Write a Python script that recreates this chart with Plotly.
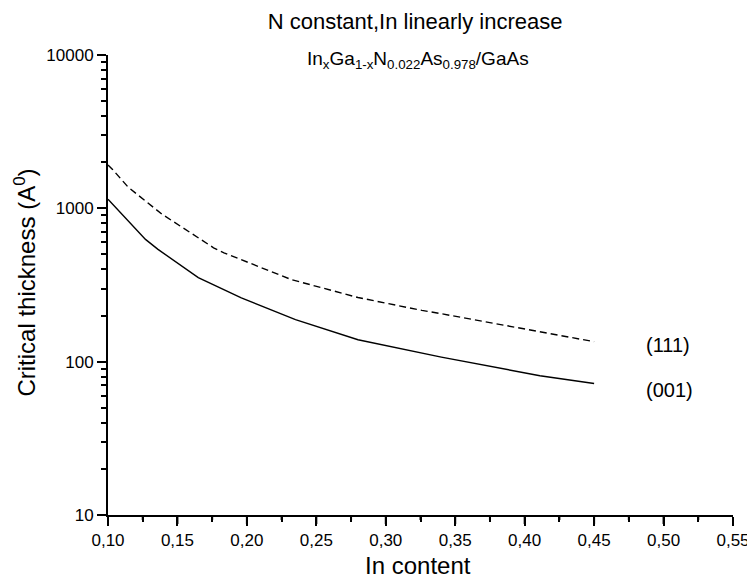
import math
import plotly.graph_objects as go

# In content (x) and critical thickness (Angstrom)
x_001 = [0.100, 0.127, 0.136, 0.160, 0.165, 0.196, 0.235, 0.280, 0.340, 0.411, 0.450]
h_001 = [1146, 627, 540, 380, 353, 261, 188, 139, 107, 81, 72]

x_111 = [0.100, 0.1031, 0.1146, 0.139, 0.176, 0.1835, 0.232, 0.280, 0.326, 0.338, 0.450]
h_111 = [1920, 1800, 1372, 914, 553, 513, 343, 262, 216, 207, 135]

curve_labels = ["(111)", "(001)"]
label_x = [0.486, 0.486]
label_y = [128, 65]

x_major_ticks = [0.10, 0.15, 0.20, 0.25, 0.30, 0.35, 0.40, 0.45, 0.50, 0.55]
x_minor_ticks = [0.125, 0.175, 0.225, 0.275, 0.325, 0.375, 0.425, 0.475, 0.525]
y_major_ticks = [10, 100, 1000, 10000]
y_minor_ticks = [20, 30, 40, 50, 60, 70, 80, 90,
                 200, 300, 400, 500, 600, 700, 800, 900,
                 2000, 3000, 4000, 5000, 6000, 7000, 8000, 9000]

FONT = "Liberation Sans, Arial, sans-serif"

fig = go.Figure()
fig.add_trace(go.Scatter(x=x_111, y=h_111, mode="lines", name="(111)",
                         line=dict(color="black", width=1.4, dash="7px,4px")))
fig.add_trace(go.Scatter(x=x_001, y=h_001, mode="lines", name="(001)",
                         line=dict(color="black", width=1.4)))

W, H = 747, 571
fig.update_layout(
    width=W, height=H,
    paper_bgcolor="white", plot_bgcolor="white",
    showlegend=False,
    separators=",",
    margin=dict(l=100, r=22, t=47, b=64, autoexpand=False),
    font=dict(family=FONT, color="black", size=17),
    title=dict(text="N constant,In linearly increase", x=0.545, xanchor="center",
               y=0.977, yanchor="middle", font=dict(size=22, family=FONT, color="black")),
    xaxis=dict(
        range=[0.10, 0.55], showgrid=False, zeroline=False, automargin=False,
        showline=True, linecolor="black", linewidth=2,
        ticks="outside", ticklen=9, tickwidth=2, tickcolor="#000000",
        tickmode="linear", tick0=0.10, dtick=0.05, tickformat=".2f",
        tickfont=dict(size=17, family=FONT, color="black"),
        minor=dict(ticks="outside", ticklen=5, tickwidth=2, tickcolor="#000000", dtick=0.025),
    ),
    yaxis=dict(
        type="log", range=[1, 4], showgrid=False, zeroline=False, automargin=False,
        showline=True, linecolor="black", linewidth=2,
        ticks="outside", ticklen=9, tickwidth=2, tickcolor="#000000",
        tickmode="linear", tick0=0, dtick=1, exponentformat="none",
        tickfont=dict(size=17, family=FONT, color="black"),
        minor=dict(ticks="outside", ticklen=5, tickwidth=2, tickcolor="#000000", dtick="D1"),
    ),
)

# tick marks also drawn explicitly at the axis tick values
tick_line = dict(color="black", width=2)
for v in x_major_ticks + x_minor_ticks:
    ln = 9 if v in x_major_ticks else 5
    fig.add_shape(type="line", xref="x", yref="paper", x0=v, x1=v,
                  ysizemode="pixel", yanchor=0, y0=0, y1=-ln, line=tick_line, layer="above")
for v in y_major_ticks + y_minor_ticks:
    ln = 9 if v in y_major_ticks else 5
    lv = math.log10(v)
    fig.add_shape(type="line", xref="paper", yref="y", y0=lv, y1=lv,
                  xsizemode="pixel", xanchor=0, x0=0, x1=-ln, line=tick_line, layer="above")

# axis titles
fig.add_annotation(text="In content", xref="paper", yref="paper", x=0.496, y=-0.109,
                   xanchor="center", yanchor="middle", showarrow=False,
                   font=dict(size=24, family=FONT, color="black"))
fig.add_annotation(text="Critical thickness (A<sup>0</sup>)", xref="paper", yref="paper",
                   x=-0.133, y=0.505, xanchor="center", yanchor="middle", textangle=-90,
                   showarrow=False, font=dict(size=24, family=FONT, color="black"))

fig.add_annotation(text="In<sub>x</sub>Ga<sub>1-x</sub>N<sub>0.022</sub>As<sub>0.978</sub>/GaAs",
                   xref="paper", yref="paper", x=0.496, y=0.99, xanchor="center", yanchor="middle",
                   showarrow=False, font=dict(size=19, family=FONT, color="black"))
for txt, lx, ly in zip(curve_labels, label_x, label_y):
    fig.add_annotation(text=txt, xref="x", yref="y", x=lx, y=math.log10(ly),
                       xanchor="left", yanchor="middle", showarrow=False,
                       font=dict(size=20, family=FONT, color="black"))

fig.write_html("out.html")
